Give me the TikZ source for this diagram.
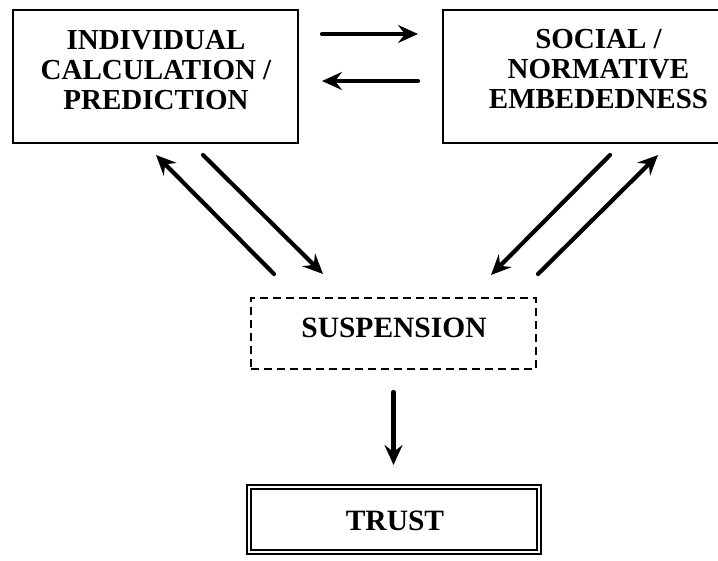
\documentclass[tikz,border=0pt]{standalone}
\usepackage{fontspec}
\setmainfont{Liberation Serif}
\usetikzlibrary{arrows.meta,calc}
\begin{document}
\begin{tikzpicture}[x=1pt,y=-1pt,
  box/.style={draw, line width=2.5pt, rectangle, inner sep=0pt, outer sep=0pt},
  lbl/.style={font=\fontsize{29}{30}\selectfont\bfseries, align=center, inner sep=0pt},
  lbig/.style={font=\fontsize{29.5}{32}\selectfont\bfseries, inner sep=0pt},
  arr/.style={line width=4.2pt, line cap=round, -{Stealth[length=20pt,width=18pt,inset=7pt]}}]
\useasboundingbox (0,0) rectangle (718,560);
\clip (0,0) rectangle (718,560);
% boxes
\node[box, minimum width=285pt, minimum height=133pt] (lbox) at (155.5,76.5) {};
\node[box, minimum width=311pt, minimum height=133pt] (rbox) at (598.5,76.5) {};
\node[box, dashed, dash pattern=on 8pt off 5pt, minimum width=285pt, minimum height=71pt] (sup) at (393.5,333.5) {};
\node[box, line width=2pt, double, double distance=2.4pt, minimum width=290pt, minimum height=65pt] (trust) at (394,519.5) {};
% labels
\node[lbl] (ltxt) at (156,70) {INDIVIDUAL\\CALCULATION /\\PREDICTION};
\node[lbl] (rtxt) at (598.5,69) {SOCIAL /\\NORMATIVE\\EMBEDEDNESS};
\node[lbig] (stxt) at (394,327.5) {SUSPENSION};
\node[lbig] (ttxt) at (395,521) {TRUST};
% horizontal arrows
\draw[arr, shorten <=24pt, shorten >=25pt] ([yshift=42.5pt]lbox.east) -- ([yshift=42.5pt]rbox.west);
\draw[arr, shorten <=25pt, shorten >=24pt] ([yshift=-4.5pt]rbox.west) -- ([yshift=-4.5pt]lbox.east);
% diagonal arrows
\coordinate (a1s) at (274,274);
\coordinate (a1e) at (156,155);
\coordinate (a2s) at (203,155);
\coordinate (a2e) at (323,274);
\coordinate (a3s) at (610,155);
\coordinate (a3e) at (491,275);
\coordinate (a4s) at (538,274);
\coordinate (a4e) at (658,155);
\draw[arr] (a1s) -- (a1e);
\draw[arr] (a2s) -- (a2e);
\draw[arr] (a3s) -- (a3e);
\draw[arr] (a4s) -- (a4e);
% vertical arrow
\draw[arr, shorten <=23pt, shorten >=22pt] (sup.south) -- (sup.south |- trust.north);
\end{tikzpicture}
\end{document}
